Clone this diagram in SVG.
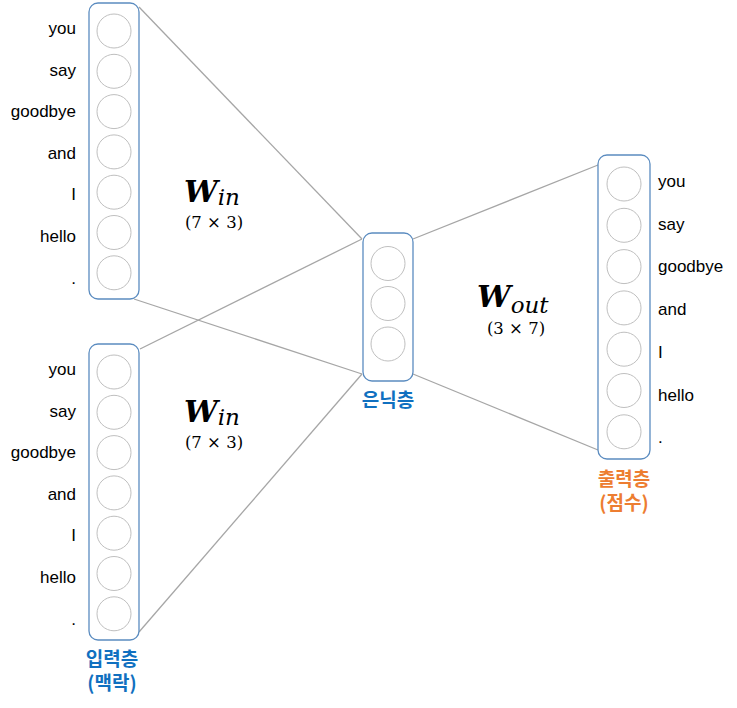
<svg xmlns="http://www.w3.org/2000/svg" width="737" height="708" viewBox="0 0 737 708">
<style>
.box{fill:#fff;stroke:#5B8CC0;stroke-width:1.3}
.u{fill:#fff;stroke:#BFBFBF;stroke-width:1}
.w{font-family:"Liberation Sans",Arial,sans-serif;font-size:17px;fill:#000}
.r{text-anchor:end}
.lbl{font-family:"Noto Sans CJK KR","Noto Sans",sans-serif;font-size:19px;font-weight:bold;text-anchor:middle}
.blue{fill:#1070C0}
.orange{fill:#ED7D31}
.W{font-family:"DejaVu Serif",serif;font-weight:bold;font-style:italic;font-size:30px}
.sub{font-family:"DejaVu Serif",serif;font-style:italic;font-size:23px}
.dim{font-family:"DejaVu Serif",serif;font-size:16.5px;text-anchor:middle}
.c{stroke:#A6A6A6;stroke-width:1.3;fill:none}
</style>
<g id="connectors">
<line class="c" x1="139" y1="7" x2="362" y2="239"/>
<line class="c" x1="134" y1="299" x2="362" y2="374"/>
<line class="c" x1="140" y1="349" x2="362" y2="239"/>
<line class="c" x1="139" y1="632" x2="362" y2="374"/>
<line class="c" x1="413" y1="239" x2="598" y2="165"/>
<line class="c" x1="413" y1="374" x2="598" y2="450"/>
</g>
<g id="input-top">
<rect class="box" x="89" y="3" width="50" height="296" rx="9"/>
<circle class="u" cx="114" cy="31" r="17"/>
<circle class="u" cx="114" cy="71.3" r="17"/>
<circle class="u" cx="114" cy="111.6" r="17"/>
<circle class="u" cx="114" cy="151.9" r="17"/>
<circle class="u" cx="114" cy="192.2" r="17"/>
<circle class="u" cx="114" cy="232.5" r="17"/>
<circle class="u" cx="114" cy="272.8" r="17"/>
<text class="w r" x="76" y="34">you</text>
<text class="w r" x="76" y="75.5">say</text>
<text class="w r" x="76" y="117">goodbye</text>
<text class="w r" x="76" y="158.5">and</text>
<text class="w r" x="76" y="200">I</text>
<text class="w r" x="76" y="242">hello</text>
<text class="w r" x="76" y="284">.</text>
</g>
<g id="input-bottom">
<rect class="box" x="89" y="344" width="50" height="296" rx="9"/>
<circle class="u" cx="114" cy="372" r="17"/>
<circle class="u" cx="114" cy="412.3" r="17"/>
<circle class="u" cx="114" cy="452.6" r="17"/>
<circle class="u" cx="114" cy="492.9" r="17"/>
<circle class="u" cx="114" cy="533.2" r="17"/>
<circle class="u" cx="114" cy="573.5" r="17"/>
<circle class="u" cx="114" cy="613.8" r="17"/>
<text class="w r" x="76" y="375">you</text>
<text class="w r" x="76" y="416.5">say</text>
<text class="w r" x="76" y="458">goodbye</text>
<text class="w r" x="76" y="499.5">and</text>
<text class="w r" x="76" y="541">I</text>
<text class="w r" x="76" y="583">hello</text>
<text class="w r" x="76" y="625">.</text>
<text class="lbl blue" x="112" y="666">입력층</text>
<text class="lbl blue" x="112" y="690">(맥락)</text>
</g>
<g id="hidden">
<rect class="box" x="363" y="233" width="50" height="148" rx="9"/>
<circle class="u" cx="388" cy="263.5" r="17"/>
<circle class="u" cx="388" cy="303.5" r="17"/>
<circle class="u" cx="388" cy="344" r="17"/>
<text class="lbl blue" x="388" y="407">은닉층</text>
</g>
<g id="output">
<rect class="box" x="598" y="155" width="52" height="304" rx="9"/>
<circle class="u" cx="624" cy="184" r="17"/>
<circle class="u" cx="624" cy="225.3" r="17"/>
<circle class="u" cx="624" cy="266.6" r="17"/>
<circle class="u" cx="624" cy="307.9" r="17"/>
<circle class="u" cx="624" cy="349.2" r="17"/>
<circle class="u" cx="624" cy="390.5" r="17"/>
<circle class="u" cx="624" cy="431.8" r="17"/>
<text class="w" x="658" y="187">you</text>
<text class="w" x="658" y="229.5">say</text>
<text class="w" x="658" y="272">goodbye</text>
<text class="w" x="658" y="315">and</text>
<text class="w" x="658" y="358">I</text>
<text class="w" x="658" y="400.5">hello</text>
<text class="w" x="658" y="443">.</text>
<text class="lbl orange" x="624" y="486">출력층</text>
<text class="lbl orange" x="624" y="510">(점수)</text>
</g>
<g id="w-in-top">
<text x="184" y="202"><tspan class="W">W</tspan><tspan class="sub" dy="3">in</tspan></text>
<text class="dim" x="214" y="227.5">(7 × 3)</text>
</g>
<g id="w-in-bottom">
<text x="184" y="422"><tspan class="W">W</tspan><tspan class="sub" dy="3">in</tspan></text>
<text class="dim" x="214" y="447.5">(7 × 3)</text>
</g>
<g id="w-out">
<text x="477" y="307"><tspan class="W">W</tspan><tspan class="sub" dy="6">out</tspan></text>
<text class="dim" x="516" y="334">(3 × 7)</text>
</g>
</svg>
